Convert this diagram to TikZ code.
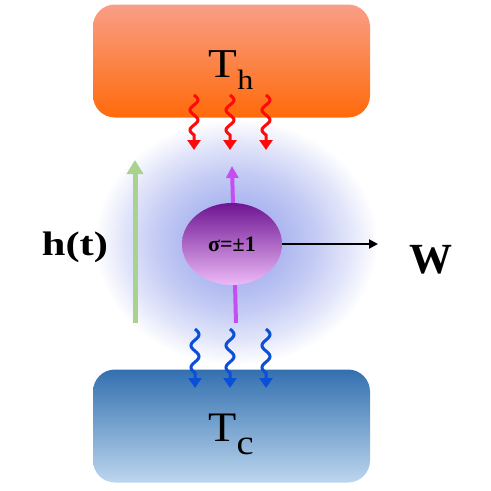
\documentclass[tikz,border=0pt]{standalone}
\usepackage{fontspec}
\setmainfont{Liberation Serif}
\usetikzlibrary{arrows.meta,shapes.geometric,shadings}
\definecolor{glowc}{HTML}{A2ADEE}
\definecolor{hotT}{HTML}{F99E88}
\definecolor{hotM}{HTML}{FA8A72}
\definecolor{hotB}{HTML}{FF6A0A}
\definecolor{coldT}{HTML}{3370B0}
\definecolor{coldM}{HTML}{9FC1E5}
\definecolor{coldB}{HTML}{BCD6EE}
\definecolor{spinT}{HTML}{6E1592}
\definecolor{spinM}{HTML}{B36CCB}
\definecolor{spinB}{HTML}{EDB9F7}
\definecolor{magc}{HTML}{C64DF2}
\definecolor{greenc}{HTML}{A8D28E}
\definecolor{wavred}{HTML}{FF0A0A}
\definecolor{wavblue}{HTML}{0A4FD8}
\pgfdeclareradialshading{glowshade}{\pgfpoint{0bp}{0bp}}{color(0bp)=(glowc); color(2.4bp)=(glowc); color(6.5bp)=(glowc!65!white); color(9.4bp)=(glowc!32!white); color(11.8bp)=(white); color(50bp)=(white)}
\tikzset{
  reservoir/.style={minimum width=277pt, minimum height=113pt, rounded corners=22pt, inner sep=0pt},
  hotbox/.style={reservoir, top color=hotT, middle color=hotM, bottom color=hotB},
  coldbox/.style={reservoir, top color=coldT, middle color=coldM, bottom color=coldB},
  wav/.style={line width=3pt, -{Triangle[width=13pt,length=10pt]}},
  lbl/.style={inner sep=0pt, anchor=base},
}
\newcommand{\wavyarrow}[4]{%
  \draw[wav, #4] plot[domain=0:#3, samples=41, smooth] ({#1+4*sin(\x*360/(#3/2))}, {#2+\x}) -- (#1,#2+#3+15);}
\begin{document}
\begin{tikzpicture}[x=1pt,y=-1pt]
\useasboundingbox (0,0) rectangle (491,491);
% glow (rectangle larger than the page, so its edge is outside)
\fill[shading=glowshade] (236-300,242-260) rectangle (236+300,242+260);
% reservoirs
\node[hotbox] (hot) at (231.5,61) {};
\node[coldbox] (cold) at (231.5,426) {};
% labels of reservoirs
\node[lbl] (th) at (231,77) {\scalebox{1.15}[1]{\fontsize{41}{41}\selectfont T\raisebox{-12pt}{\fontsize{28}{28}\selectfont h}}};
\node[lbl] (tc) at (231,441) {\scalebox{1.1}[1]{\fontsize{42}{42}\selectfont T\raisebox{-13pt}{\fontsize{35}{35}\selectfont c}}};
% heat flow arrows
\wavyarrow{194}{95}{40}{wavred}
\wavyarrow{230}{95}{40}{wavred}
\wavyarrow{266}{95}{40}{wavred}
\wavyarrow{195}{329}{44}{wavblue}
\wavyarrow{230}{329}{44}{wavblue}
\wavyarrow{266}{329}{44}{wavblue}
% field arrow
\coordinate (gb) at (135,323);
\coordinate (gt) at (135,160);
\draw[greenc, line width=5pt, -{Triangle[width=16pt,length=14pt]}] (gb) -- (gt);
\node[lbl] (ht) at (75,255) {\scalebox{1.25}[1]{\fontsize{34}{34}\selectfont\bfseries h(t)}};
% spin arrow
\coordinate (mb) at (236,323);
\coordinate (mt) at (232,166);
\draw[magc, line width=4pt, -{Triangle[width=12pt,length=12pt]}] (mb) -- (mt);
% spin
\node[ellipse, minimum width=100pt, minimum height=82pt, inner sep=0pt,
      top color=spinT, middle color=spinM, bottom color=spinB] (spin) at (232,244)
      {\fontsize{22}{22}\selectfont\bfseries σ=±1};
% work
\coordinate (wend) at (378,244);
\draw[black, line width=2pt, -{Triangle[width=9pt,length=9pt]}] (spin.east) -- (wend);
\node[lbl] (w) at (431,273) {\fontsize{43}{43}\selectfont\bfseries W};
\end{tikzpicture}
\end{document}
